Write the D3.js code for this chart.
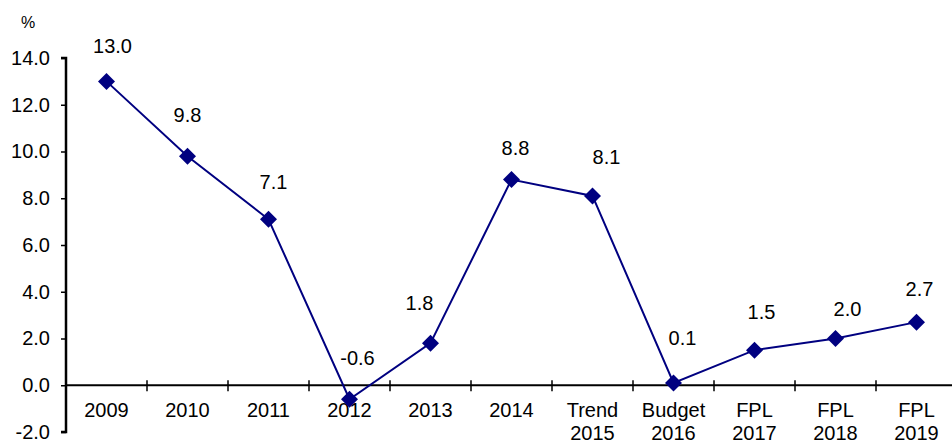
<!DOCTYPE html>
<html>
<head>
<meta charset="utf-8">
<script src="https://cdn.jsdelivr.net/npm/d3@7"></script>
<style>
  html, body { margin: 0; padding: 0; background: #fff; }
  svg { display: block; }
  text { font-family: "Liberation Sans", Arial, sans-serif; fill: #000; }
</style>
</head>
<body>
<svg id="chart" width="952" height="443"></svg>
<script>
// Growth rates, percent
const categories = ["2009", "2010", "2011", "2012", "2013", "2014",
                    "Trend 2015", "Budget 2016", "FPL 2017", "FPL 2018", "FPL 2019"];
const values = [13.0, 9.8, 7.1, -0.6, 1.8, 8.8, 8.1, 0.1, 1.5, 2.0, 2.7];
const yTicks = [-2, 0, 2, 4, 6, 8, 10, 12, 14];
const unitLabel = "%";

// Layout
const plot = { left: 66, right: 957, top: 58, bottom: 432 };
const lineColor = "#000080";
const fontSize = 20;
// per-label nudges [dx, dy] relative to the default spot above each point
const labelNudge = [[0, 3], [-6, -3], [-1, 1], [2, -3], [-17, -2], [-2, 6],
                    [8, -1], [3, -7], [1, 0], [6, 8], [-3, 5]];

const svg = d3.select("#chart");

const x = d3.scaleBand().domain(categories).range([plot.left, plot.right]).padding(0);
const y = d3.scaleLinear().domain([-2, 14]).range([plot.bottom, plot.top]);

// Y axis
const yAxis = d3.axisLeft(y)
  .tickValues(yTicks)
  .tickFormat(d3.format(".1f"))
  .tickSize(5)
  .tickPadding(11);

const gy = svg.append("g")
  .attr("transform", `translate(${plot.left},0)`)
  .call(yAxis);
gy.select(".domain").attr("stroke", "#000").attr("stroke-width", 2.5)
  .attr("d", `M-5,${y(14)}H0V${y(-2)}H-5`);
gy.selectAll(".tick line").attr("stroke", "#000").attr("stroke-width", 1.5);
gy.selectAll(".tick text")
  .style("font-size", fontSize + "px")
  .style("font-family", '"Liberation Sans", Arial, sans-serif')
  .attr("fill", "#000")
  .text(d => d3.format(".1f")(d).replace("−", "-"));

// X axis along zero
const y0 = y(0);
svg.append("line")
  .attr("x1", plot.left).attr("x2", plot.right)
  .attr("y1", y0).attr("y2", y0)
  .attr("stroke", "#000").attr("stroke-width", 2);

const boundaries = categories.slice(1).map(c => x(c)).concat([plot.right]);
svg.append("g").selectAll("line")
  .data(boundaries)
  .join("line")
  .attr("x1", d => d).attr("x2", d => d)
  .attr("y1", y0 - 5).attr("y2", y0 + 6)
  .attr("stroke", "#000").attr("stroke-width", 1.5);

// Category labels (two lines where needed)
const catLabels = svg.append("g").selectAll("text")
  .data(categories)
  .join("text")
  .attr("x", d => x(d) + x.bandwidth() / 2)
  .attr("y", 417)
  .attr("text-anchor", "middle")
  .style("font-size", fontSize + "px");
catLabels.each(function(d) {
  const parts = d.split(" ");
  const t = d3.select(this);
  parts.forEach((p, i) => {
    t.append("tspan")
      .attr("x", x(d) + x.bandwidth() / 2)
      .attr("dy", i === 0 ? 0 : 23)
      .text(p);
  });
});

// Unit label
svg.append("text")
  .attr("x", 28).attr("y", 28)
  .attr("text-anchor", "middle")
  .style("font-size", "16px")
  .text(unitLabel);

// Series line
const px = (d, i) => x(categories[i]) + x.bandwidth() / 2;
const line = d3.line().x(px).y(d => y(d));
svg.append("path")
  .datum(values)
  .attr("d", line)
  .attr("fill", "none")
  .attr("stroke", lineColor)
  .attr("stroke-width", 2);

// Diamond markers
const r = 8.5;
svg.append("g").selectAll("path")
  .data(values)
  .join("path")
  .attr("transform", (d, i) => `translate(${px(d, i)},${y(d)})`)
  .attr("d", `M0,${-r}L${r},0L0,${r}L${-r},0Z`)
  .attr("fill", lineColor);

// Value labels
svg.append("g").selectAll("text")
  .data(values)
  .join("text")
  .attr("x", (d, i) => px(d, i) + 6 + labelNudge[i][0])
  .attr("y", (d, i) => y(d) - 38 + 7 + labelNudge[i][1])
  .attr("text-anchor", "middle")
  .style("font-size", fontSize + "px")
  .text(d => d3.format(".1f")(d).replace("−", "-"));
</script>
</body>
</html>
